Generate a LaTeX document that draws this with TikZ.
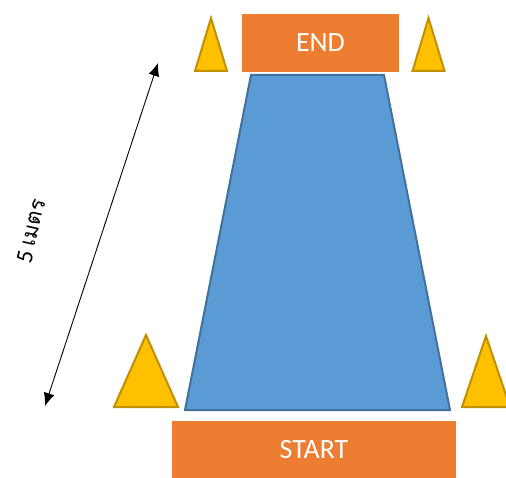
\documentclass[tikz,border=0pt]{standalone}
\usepackage{fontspec}
\setmainfont{Carlito}
\newfontfamily\thaifont[Script=Thai]{Loma}
\usetikzlibrary{arrows.meta}
\definecolor{orangefill}{HTML}{ED7D31}
\definecolor{bluefill}{HTML}{5B9BD5}
\definecolor{blueline}{HTML}{41719C}
\definecolor{yellowfill}{HTML}{FFC000}
\definecolor{yellowline}{HTML}{BF9000}
\tikzset{
  cone/.style={fill=yellowfill, draw=yellowline, line width=2bp, line join=miter},
  banner/.style={fill=orangefill, draw=none, text=white, font=\fontsize{28}{30}\selectfont, inner sep=0pt},
  stage/.style={fill=bluefill, draw=blueline, line width=2bp},
  measure/.style={{Latex[length=13bp,width=11bp]}-{Latex[length=13bp,width=11bp]}, line width=0.9bp, black}
}
\begin{document}
\begin{tikzpicture}[x=1bp,y=-1bp]
\useasboundingbox (0,0) rectangle (506,478);
\begin{scope}
\clip (0,0) rectangle (506,478);
% trapezoid stage
\draw[stage] (251,75) -- (384,75) -- (450,410) -- (185,410) -- cycle;
% cones
\draw[cone] (211,18) -- (227,71) -- (195,71) -- cycle;
\draw[cone] (428.5,18) -- (444.5,71) -- (412.5,71) -- cycle;
\draw[cone] (146,335) -- (178,407) -- (114,407) -- cycle;
\draw[cone] (486,336) -- (510,407) -- (462,407) -- cycle;
% banners
\node[banner, minimum width=157bp, minimum height=58bp] (end) at (320.5,43) {END};
\node[banner, minimum width=284bp, minimum height=58bp] (start) at (314,449.5) {START};
% measure arrow
\coordinate (top) at (158,63);
\coordinate (bot) at (45,406);
\draw[measure] (bot) -- (top);
\node[rotate=77, inner sep=0pt] (lbl) at (31,231) {\fontsize{24}{26}\selectfont 5 \thaifont\fontsize{22}{24}\selectfont เมตร};
\end{scope}
\end{tikzpicture}
\end{document}
